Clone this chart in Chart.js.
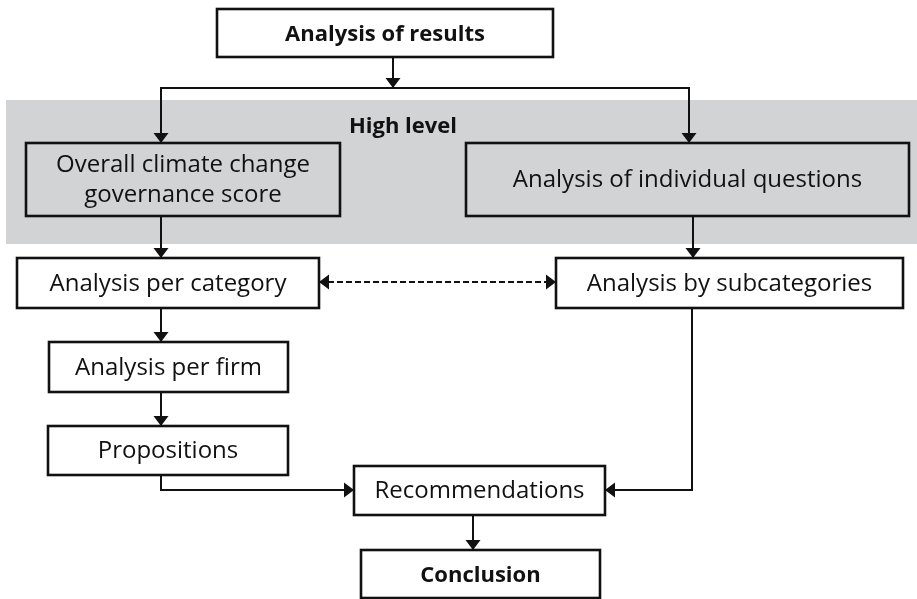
<!DOCTYPE html>
<html>
<head>
<meta charset="utf-8">
<script src="https://cdn.jsdelivr.net/npm/chart.js@4.4.1/dist/chart.umd.min.js"></script>
<style>
html,body{margin:0;padding:0;background:#fff;}
#c{display:block;}
</style>
</head>
<body>
<canvas id="c" width="917" height="599"></canvas>
<script>
// ---- flowchart data (diagram units) ----
const boxLabels  = ["Analysis of results", "Overall climate change\ngovernance score", "Analysis of individual questions",
                    "Analysis per category", "Analysis by subcategories", "Analysis per firm",
                    "Propositions", "Recommendations", "Conclusion"];
const boxLeft    = [217,  26, 466,  17, 556,  49,  48, 354, 361];
const boxRight   = [553, 340, 909, 319, 903, 288, 288, 605, 600];
const boxTop     = [  9, 143, 143, 258, 258, 342, 426, 466, 550];
const boxBottom  = [ 57, 216, 216, 308, 308, 392, 475, 515, 598];
const boxInGroup = [false, true, true, false, false, false, false, false, false];
const boxStrong  = [true, false, false, false, false, false, false, false, true];

const groupLabel = "High level";
const groupLeft = 6, groupRight = 917, groupTop = 100, groupBottom = 244;
const groupLabelX = 403, groupLabelY = 125;

const linkX = [[393,393], [161,161,689,689], [161,161], [693,693], [319,556],
               [161,161], [161,161], [161,161,354], [692,692,605], [473,473]];
const linkY = [[57,88], [143,88,88,143], [216,258], [216,258], [282,282],
               [308,342], [392,426], [475,490,490], [308,490,490], [515,550]];
const linkHeadStart = [false, true, false, false, true, false, false, false, false, false];
const linkHeadEnd   = [true, true, true, true, true, true, true, true, true, true];
const linkDashed    = [false, false, false, false, true, false, false, false, false, false];

// ---- styles ----
const INK = '#111111';
const GREY = '#d2d3d5';
const FONT = '"Open Sans", "DejaVu Sans", sans-serif';

const datasets = linkX.map((xs, i) => ({
  data: xs.map((xv, j) => ({x: xv, y: linkY[i][j]})),
  showLine: true,
  borderColor: INK,
  borderWidth: linkDashed[i] ? 2.2 : 2,
  borderDash: linkDashed[i] ? [6, 3] : [],
  pointRadius: 0,
  pointHoverRadius: 0,
  tension: 0,
  fill: false
}));

function arrowHead(ctx, tipX, tipY, fromX, fromY) {
  const ang = Math.atan2(tipY - fromY, tipX - fromX);
  const len = 10, half = 7.5;
  ctx.save();
  ctx.translate(tipX, tipY);
  ctx.rotate(ang);
  ctx.beginPath();
  ctx.moveTo(0, 0);
  ctx.lineTo(-len, -half);
  ctx.lineTo(-len, half);
  ctx.closePath();
  ctx.fillStyle = INK;
  ctx.fill();
  ctx.restore();
}

const flowPlugin = {
  id: 'flow',
  beforeDatasetsDraw(chart) {
    const {ctx, scales: {x, y}} = chart;
    ctx.save();
    const l = x.getPixelForValue(groupLeft), r = x.getPixelForValue(groupRight);
    const t = y.getPixelForValue(groupTop), b = y.getPixelForValue(groupBottom);
    ctx.fillStyle = GREY;
    ctx.fillRect(l, t, r - l, b - t);
    ctx.restore();
  },
  afterDatasetsDraw(chart) {
    const {ctx, scales: {x, y}} = chart;
    ctx.save();
    // group label
    ctx.fillStyle = INK;
    ctx.font = 'bold 22px ' + FONT;
    ctx.textAlign = 'center';
    ctx.textBaseline = 'alphabetic';
    ctx.fillText(groupLabel, x.getPixelForValue(groupLabelX), y.getPixelForValue(groupLabelY) + 8);
    // boxes
    boxLabels.forEach((lab, i) => {
      const l = x.getPixelForValue(boxLeft[i]), r = x.getPixelForValue(boxRight[i]);
      const t = y.getPixelForValue(boxTop[i]), b = y.getPixelForValue(boxBottom[i]);
      ctx.fillStyle = boxInGroup[i] ? GREY : '#ffffff';
      ctx.fillRect(l, t, r - l, b - t);
      ctx.lineWidth = 2.6;
      ctx.strokeStyle = INK;
      ctx.strokeRect(l, t, r - l, b - t);
      ctx.fillStyle = INK;
      ctx.font = (boxStrong[i] ? 'bold 22px ' : '24px ') + FONT;
      const lines = lab.split('\n');
      const lh = 30;
      const cy = (t + b) / 2;
      const cx = (l + r) / 2;
      lines.forEach((ln, k) => {
        const off = (k - (lines.length - 1) / 2) * lh;
        ctx.fillText(ln, cx, cy + off + 7.5);
      });
    });
    // arrowheads
    linkX.forEach((xs, i) => {
      const px = xs.map(v => x.getPixelForValue(v));
      const py = linkY[i].map(v => y.getPixelForValue(v));
      const n = px.length;
      if (linkHeadEnd[i]) arrowHead(ctx, px[n-1], py[n-1], px[n-2], py[n-2]);
      if (linkHeadStart[i]) arrowHead(ctx, px[0], py[0], px[1], py[1]);
    });
    ctx.restore();
  }
};

new Chart(document.getElementById('c'), {
  type: 'scatter',
  data: {datasets},
  options: {
    responsive: false,
    animation: false,
    devicePixelRatio: 1,
    layout: {padding: 0},
    plugins: {legend: {display: false}, tooltip: {enabled: false}, title: {display: false}},
    events: [],
    scales: {
      x: {type: 'linear', min: 0, max: 917, display: false},
      y: {type: 'linear', min: 0, max: 599, reverse: true, display: false}
    }
  },
  plugins: [flowPlugin]
});
</script>
</body>
</html>
